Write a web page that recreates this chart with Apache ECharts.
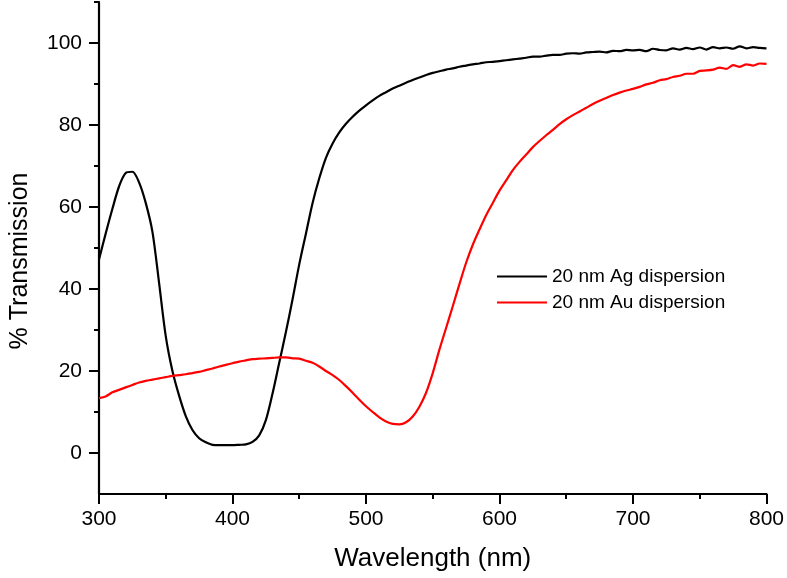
<!DOCTYPE html>
<html>
<head>
<meta charset="utf-8">
<script src="https://cdn.jsdelivr.net/npm/echarts@6/dist/echarts.min.js"></script>
<style>html,body{margin:0;padding:0;background:#fff}#c{width:787px;height:578px}</style>
</head>
<body>
<div id="c"></div>
<script>
var wavelength = [300,305,310,315,320,325,330,335,340,345,350,355,360,365,370,375,380,385,390,395,400,405,410,415,420,425,430,435,440,445,450,455,460,465,470,475,480,485,490,495,500,505,510,515,520,525,530,535,540,545,550,555,560,565,570,575,580,585,590,595,600,605,610,615,620,625,630,635,640,645,650,655,660,665,670,675,680,685,690,695,700,705,710,715,720,725,730,735,740,745,750,755,760,765,770,775,780,785,790,795,800];
var agValues = [47.2,53.5,59.5,65.0,68.3,68.6,66.0,61.0,54.0,41.5,28.5,20.0,14.0,9.0,5.6,3.6,2.6,2.0,1.9,1.9,1.9,2.0,2.1,2.7,4.3,8.0,14.5,22.0,29.5,37.5,46.0,53.5,61.0,67.0,72.0,75.5,78.2,80.3,82.0,83.5,84.8,86.0,87.1,88.0,88.9,89.6,90.3,91.0,91.6,92.2,92.7,93.1,93.5,93.8,94.2,94.5,94.8,95.0,95.3,95.4,95.6,95.8,96.0,96.2,96.4,96.7,96.7,96.9,97.1,97.1,97.4,97.5,97.4,97.7,97.8,97.9,97.7,98.1,98.0,98.3,98.2,98.3,98.0,98.6,98.3,98.2,98.7,98.4,98.8,98.5,98.9,98.4,99.0,98.7,98.9,98.6,99.2,98.7,99.0,98.8,98.7];
var auValues = [13.4,13.8,14.8,15.4,16.0,16.6,17.2,17.6,17.9,18.2,18.5,18.8,19.0,19.2,19.5,19.8,20.2,20.6,21.1,21.5,21.9,22.3,22.6,22.9,23.0,23.1,23.2,23.3,23.3,23.1,23.0,22.5,22.0,21.1,20.0,19.0,17.8,16.3,14.7,13.0,11.4,10.0,8.7,7.7,7.1,7.0,7.5,8.9,11.3,14.7,19.5,25.2,30.5,35.8,41.2,46.4,50.8,54.5,58.0,61.0,64.0,66.5,69.0,71.0,72.8,74.6,76.1,77.5,78.8,80.2,81.4,82.4,83.3,84.2,85.1,85.9,86.6,87.3,87.9,88.4,88.8,89.3,89.9,90.3,90.9,91.2,91.7,92.0,92.5,92.5,93.2,93.3,93.5,94.0,93.7,94.6,94.2,94.8,94.5,95.0,94.9];
var yMajorTicks = [0,20,40,60,80,100];
var yMinorTicks = [10,30,50,70,90,110];
var seriesNames = ['20 nm Ag dispersion','20 nm Au dispersion'];

function pairs(xs, ys){ return xs.map(function(x,i){ return [x, ys[i]]; }); }

var font = 'Liberation Sans, Arial, sans-serif';
var chart = echarts.init(document.getElementById('c'), null, {renderer:'canvas'});
chart.setOption({
  animation:false,
  backgroundColor:'#fff',
  textStyle:{fontFamily:font, color:'#000'},
  grid:{left:99, right:19, top:2, bottom:84, containLabel:false},
  legend:{
    left:492, top:262, orient:'vertical', icon:'rect', itemWidth:50, itemHeight:2, itemGap:7,
    textStyle:{fontSize:19, lineHeight:19, color:'#000', fontFamily:font},
    data:seriesNames
  },
  xAxis:{
    type:'value', min:300, max:800, interval:100,
    name:'Wavelength (nm)', nameLocation:'middle', nameGap:52,
    nameTextStyle:{fontSize:26, color:'#000', fontFamily:font},
    axisLine:{show:true, onZero:false, lineStyle:{color:'#000', width:2.2}},
    axisTick:{show:true, inside:false, length:10, lineStyle:{color:'#000', width:2}},
    minorTick:{show:true, splitNumber:2, length:5, lineStyle:{color:'#000', width:2}},
    axisLabel:{fontSize:21, color:'#000', margin:15, fontFamily:font},
    splitLine:{show:false}
  },
  yAxis:[{
    type:'value', min:-10, max:110, position:'left',
    name:'% Transmission', nameLocation:'middle', nameGap:66, nameRotate:90,
    nameTextStyle:{fontSize:25, color:'#000', fontFamily:font, padding:[0,26,0,0]},
    axisLine:{show:true, onZero:false, lineStyle:{color:'#000', width:2.2}},
    axisTick:{show:true, length:10, customValues:yMajorTicks, lineStyle:{color:'#000', width:2}},
    axisLabel:{fontSize:21, color:'#000', margin:17, customValues:yMajorTicks, fontFamily:font},
    splitLine:{show:false}
  },{
    type:'value', min:-10, max:110, position:'left', offset:0,
    axisLine:{show:false},
    axisTick:{show:true, length:5, customValues:yMinorTicks, lineStyle:{color:'#000', width:2}},
    axisLabel:{show:false, customValues:yMinorTicks},
    splitLine:{show:false}
  }],
  series:[{
    name:seriesNames[0], type:'line', yAxisIndex:0, showSymbol:false, smooth:0.3,
    lineStyle:{color:'#000', width:2.2}, itemStyle:{color:'#000'},
    data:pairs(wavelength, agValues)
  },{
    name:seriesNames[1], type:'line', yAxisIndex:0, showSymbol:false, smooth:0.3,
    lineStyle:{color:'#f00', width:2.2}, itemStyle:{color:'#f00'},
    data:pairs(wavelength, auValues)
  }]
});
</script>
</body>
</html>
